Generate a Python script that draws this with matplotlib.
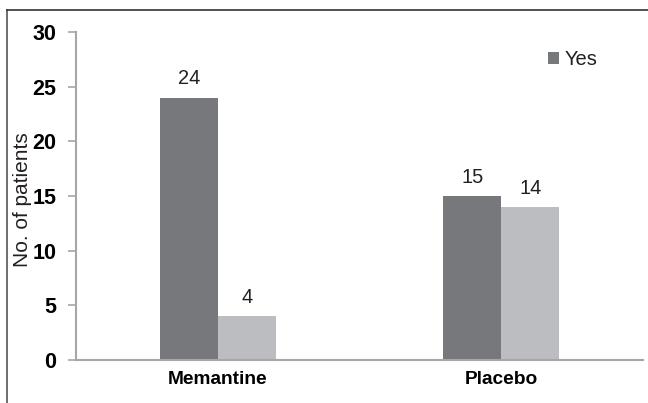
import matplotlib
matplotlib.use("Agg")
import matplotlib.pyplot as plt
import numpy as np

categories = ["Memantine", "Placebo"]
yes_values = [24, 15]
no_values = [4, 14]
yticks = [0, 5, 10, 15, 20, 25, 30]

dark = "#77787b"
light = "#bcbdc1"
axis_col = "#a6a6a6"

plt.rcParams['font.family'] = ['Liberation Sans', 'DejaVu Sans']

fig = plt.figure(figsize=6.48 * np.array([1, 403 / 648]), dpi=100)
ax = fig.add_axes([76 / 648, 1 - 360 / 403, (643 - 76) / 648, (360 - 32) / 403])

x = np.arange(len(categories))
w = 0.205
b1 = ax.bar(x - w / 2, yes_values, w, color=dark, label="Yes")
b2 = ax.bar(x + w / 2, no_values, w, color=light, label="No")

for bars, vals in ((b1, yes_values), (b2, no_values)):
    for r, v in zip(bars, vals):
        ax.text(r.get_x() + r.get_width() / 2, v + 0.85, str(v), ha="center", va="bottom",
                fontsize=14.4, color="#231f20")

ax.set_xlim(-0.5, 1.5)
ax.set_ylim(0, 30)
ax.set_yticks(yticks)
ax.set_yticklabels([str(t) for t in yticks], fontsize=15.5, fontweight="bold", color="#000000")
ax.set_xticks(x)
ax.set_xticklabels(categories, fontsize=13.8, fontweight="bold", color="#000000")
ax.tick_params(axis="x", length=0, pad=8)
ax.tick_params(axis="y", length=6, color=axis_col, width=1.2, pad=8)
ax.set_ylabel("No. of patients", fontsize=15, color="#231f20")
ax.yaxis.set_label_coords(-0.078, 0.49)

for s in ("top", "right"):
    ax.spines[s].set_visible(False)
for s in ("left", "bottom"):
    ax.spines[s].set_color(axis_col)
    ax.spines[s].set_linewidth(1.5)

h, l = ax.get_legend_handles_labels()
leg = ax.legend(h[:1], l[:1], loc="upper left", bbox_to_anchor=(0.80, 1.0), frameon=False,
                fontsize=14.5, handlelength=0.55, handleheight=0.55, handletextpad=0.3)
for t in leg.get_texts():
    t.set_color("#231f20")

# outer frame lines (left and top)
fig.add_artist(plt.Line2D([7 / 648, 7 / 648], [0, 1 - 10 / 403], color="#555555", lw=1.2, transform=fig.transFigure))
fig.add_artist(plt.Line2D([7 / 648, 1], [1 - 10 / 403, 1 - 10 / 403], color="#333333", lw=1.2, transform=fig.transFigure))

fig.savefig("out.png", dpi=100)
